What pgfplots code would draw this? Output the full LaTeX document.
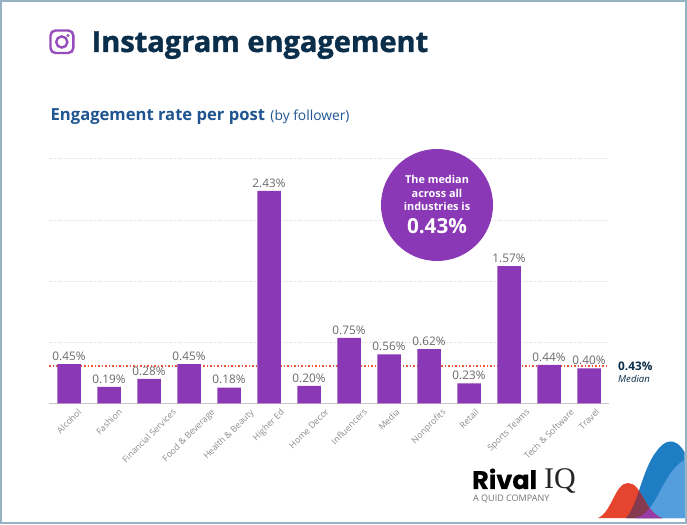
\documentclass[border=0pt]{standalone}
\usepackage{fontspec}
\usepackage{graphicx}
\usepackage{pgfplots}
\pgfplotsset{compat=1.18}
\setmainfont{Open Sans}
\newfontfamily\titlefont[BoldFeatures={FakeBold=1.3}]{Open Sans}
\newfontfamily\logofont[BoldFeatures={FakeBold=0.5}]{Poppins}
\newfontfamily\iqfont{Liberation Serif}
\newcommand{\rl}[1]{\rotatebox{45}{#1}}
\definecolor{barpurple}{HTML}{8A38B5}
\definecolor{navy}{HTML}{0B2E4A}
\definecolor{subblue}{HTML}{1F5590}
\definecolor{framecol}{HTML}{95B3C3}
\definecolor{medred}{HTML}{F0553A}
\definecolor{lblgray}{HTML}{6A6A6A}
\definecolor{tickgray}{HTML}{8C8C8C}
\definecolor{blueA}{HTML}{1F7DC4}
\definecolor{blueB}{HTML}{549EDE}
\definecolor{redA}{HTML}{E5452E}
\definecolor{redB}{HTML}{853A50}
\definecolor{purpA}{HTML}{9A3CA8}
\begin{document}
\begin{tikzpicture}[x=1pt,y=1pt]
\path[use as bounding box] (0,0) rectangle (687,524);
\fill[white] (0,0) rectangle (687,524);
\begin{axis}[
    at={(49pt,120.5pt)},
    anchor=south west,
    scale only axis,
    width=560pt,
    height=245pt,
    xmin=-0.5, xmax=13.5,
    ymin=0, ymax=2.8,
    clip=false,
    axis x line=bottom,
    axis y line=left,
    x axis line style={-,draw=black!22,line width=0.9pt},
    y axis line style={draw=none},
    ytick={0.7,1.4,2.1,2.8},
    yticklabels={},
    ymajorgrids,
    grid style={draw=black!10,dash pattern=on 1.5pt off 1pt,line width=0.4pt},
    major tick length=0pt,
    xtick={0,...,13},
    xticklabels={\rl{Alcohol},\rl{Fashion},\rl{Financial Services},\rl{Food \& Beverage},\rl{Health \& Beauty},\rl{Higher Ed},\rl{Home Decor},\rl{Influencers},\rl{Media},\rl{Nonprofits},\rl{Retail},\rl{Sports Teams},\rl{Tech \& Software},\rl{Travel}},
    xticklabel style={anchor=north,font=\fontsize{8.8}{10}\selectfont,text=tickgray,inner sep=0pt,yshift=-4.5pt},
    /pgf/number format/assume math mode=true,
]
\addplot[color=medred,no markers,line width=1.3pt,dash pattern=on 1.5pt off 2pt] coordinates {(-0.5,0.43) (13.5,0.43)};
\addplot[ybar,bar width=23.5pt,bar shift=0pt,fill=barpurple,draw=none,
    point meta=y,
    nodes near coords={\pgfmathprintnumber[fixed,fixed zerofill,precision=2]{\pgfplotspointmeta}\%},
    every node near coord/.style={font=\fontsize{11.8}{14}\selectfont,text=lblgray,inner sep=0pt,yshift=3.5pt}]
  coordinates {(0,0.45) (1,0.19) (2,0.28) (3,0.45) (4,0.18) (5,2.43) (6,0.20) (7,0.75) (8,0.56) (9,0.62) (10,0.23) (11,1.57) (12,0.44) (13,0.40)};
\end{axis}
\begin{scope}[yshift=524pt,y=-1pt]
% frame
\draw[framecol,line width=2.2pt] (1,1) rectangle (686,522.6);
% icon
\draw[barpurple!90!white,line width=2.4pt,rounded corners=5pt] (50.5,30.5) rectangle (73.3,53);
\draw[barpurple!90!white,line width=2.4pt] (61.8,42) circle (5.6);
\fill[barpurple!90!white] (68,35.5) circle (1.6);
% titles
\node[anchor=base west,inner sep=0pt,text=navy,font=\titlefont\fontsize{29}{32}\bfseries\selectfont] at (91.5,52) {Instagram engagement};
\node[anchor=base west,inner sep=0pt,text=subblue] at (50.5,121) {{\fontsize{16.6}{18}\bfseries\selectfont Engagement rate per post}\hspace{5.5pt}{\fontsize{13.8}{18}\selectfont (by follower)}};
% median callout
\fill[barpurple] (437,205) circle (56);
\node[align=center,text=white,inner sep=0pt,font=\fontsize{10.9}{13.2}\bfseries\selectfont] at (437,193) {The median\\across all\\industries is};
\node[text=white,inner sep=0pt,font=\fontsize{20.7}{24}\bfseries\selectfont] at (437,226) {0.43\%};
% median label
\node[anchor=base west,inner sep=0pt,text=navy,font=\fontsize{11.8}{13}\bfseries\selectfont] at (618,371) {0.43\%};
\node[anchor=base west,inner sep=0pt,text=navy,font=\fontsize{9.6}{11}\itshape\selectfont] at (618,382.5) {Median};
% logo
\node[anchor=base west,inner sep=0pt,text=black,font=\logofont\fontsize{25.5}{30}\bfseries\selectfont] at (472,489) {Rival};
\node[anchor=base west,inner sep=0pt,text=black!85,font=\iqfont\fontsize{30}{30}\selectfont] at (544,489) {IQ};
\node[anchor=base west,inner sep=0pt,text=black!55,font=\fontsize{9}{10}\selectfont] at (473,501) {A QUID COMPANY};
% logo curves
\def\bluepath{(626,518) .. controls (638,505) and (642,470) .. (656,452) .. controls (664,440) and (675,436) .. (684.5,452) -- (684.5,518) -- cycle}
\def\lightpath{(636,518) .. controls (658,512) and (662,472) .. (684.5,460) -- (684.5,518) -- cycle}
\def\redpath{(598,518) .. controls (612,512) and (615,483) .. (628,483) .. controls (642,483) and (644,512) .. (662,518) -- cycle}
\fill[blueA] \bluepath;
\fill[blueB] \lightpath;
\fill[redA] \redpath;
\begin{scope}
\clip \bluepath;
\fill[redB] \redpath;
\end{scope}
\begin{scope}
\clip \lightpath;
\fill[purpA] \redpath;
\end{scope}
\end{scope}
\end{tikzpicture}
\end{document}
